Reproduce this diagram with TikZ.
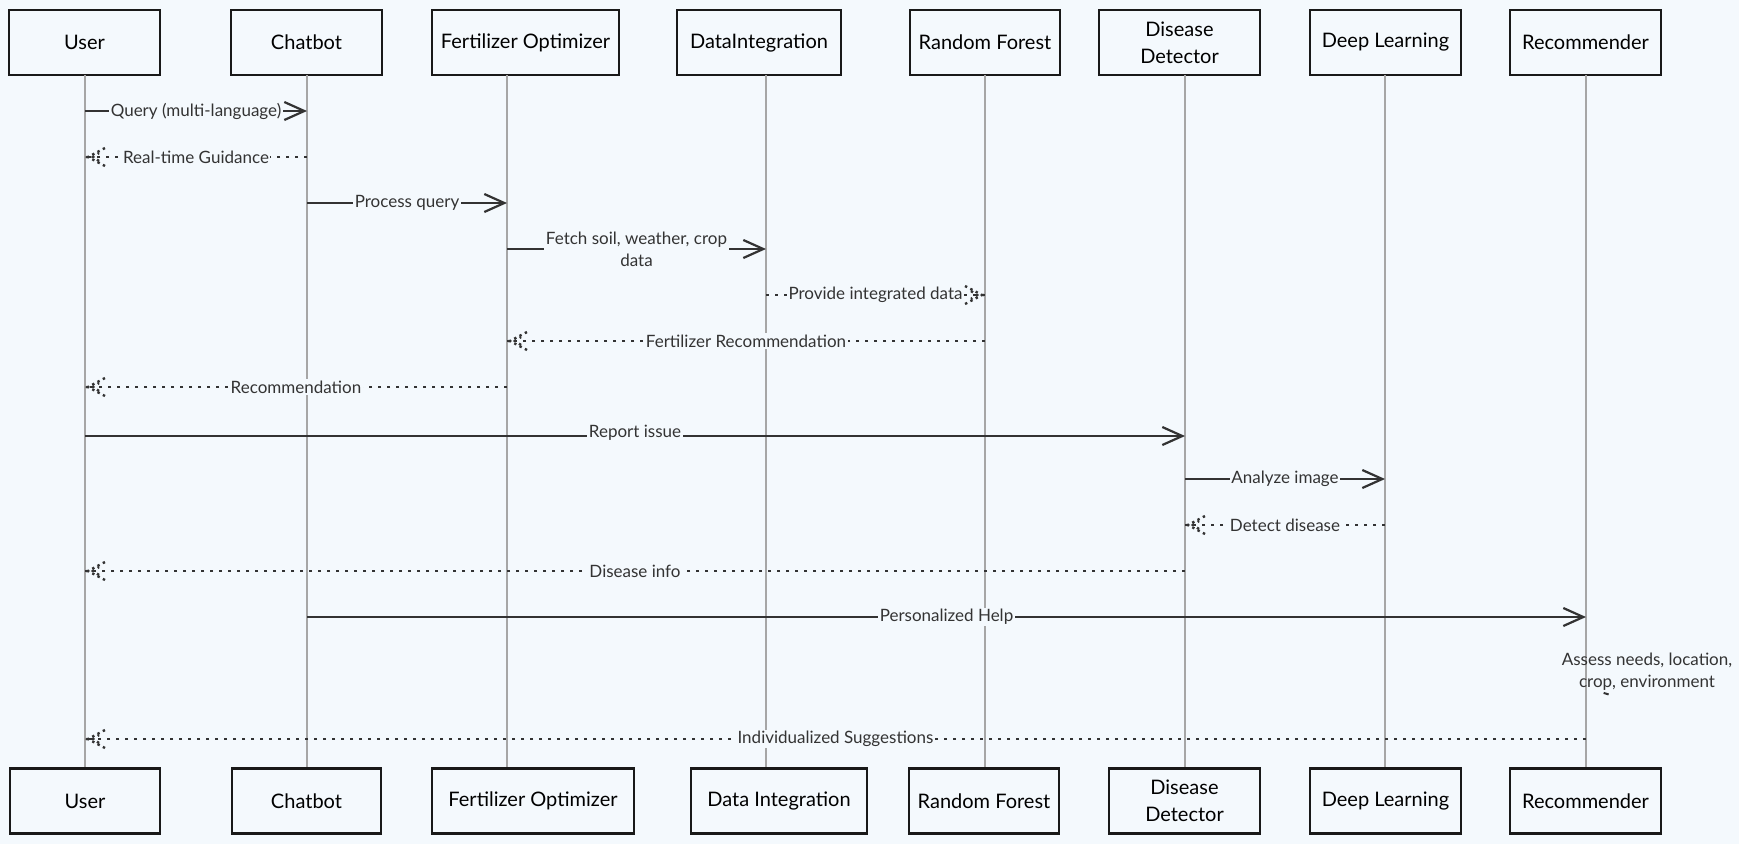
\documentclass[tikz,border=0pt]{standalone}
\usepackage{fontspec}
\setmainfont{Lato}
\usetikzlibrary{arrows.meta,decorations.markings}
\definecolor{bg}{HTML}{F4F9FD}
\definecolor{ink}{HTML}{333333}
\definecolor{life}{HTML}{A6A6A6}
\begin{document}
\begin{tikzpicture}[x=1pt,y=-1pt,
  actor/.style={draw=black!90, line width=2.2pt, fill=bg, inner sep=0pt, align=center,
     minimum height=65pt, font=\fontsize{20}{27}\selectfont, text=black},
  lifeline/.style={draw=life, line width=1.4pt},
  msg/.style={draw=ink, line width=2.2pt, -{Straight Barb[length=20pt,width=18pt,line width=2.2pt]}},
  reply/.style={draw=ink, line width=2.6pt, dash pattern=on 2.6pt off 6.4pt,
     postaction={decorate},
     decoration={markings, mark=at position 1 with {
        \draw[draw=ink, line width=2.4pt, dash pattern=on 2.4pt off 3.6pt] (-20,-9) -- (-3,0) -- (-20,9);
        \draw[draw=ink, line width=2.4pt, dash pattern=on 2.4pt off 4pt] (-14,-4) -- (-8,0) -- (-14,4);
        \fill[ink] (-2,0) circle (1.5pt);}}},
  lbl/.style={fill=bg, inner sep=1.5pt, text=ink, align=center, font=\fontsize{17}{22}\selectfont},
  notetext/.style={inner sep=0pt, text=ink, align=center, font=\fontsize{17}{22}\selectfont}
]
\useasboundingbox (0,0) rectangle (1739,844);
\fill[bg] (0,0) rectangle (1739,844);

% top actors
\node[actor, minimum width=151pt] (uT)  at (84.5,42.5)  {User};
\node[actor, minimum width=151pt] (cT)  at (306.5,42.5) {Chatbot};
\node[actor, minimum width=187pt] (fT)  at (525.5,42.5) {Fertilizer Optimizer};
\node[actor, minimum width=164pt] (dT)  at (759,42.5)   {DataIntegration};
\node[actor, minimum width=150pt] (rT)  at (985,42.5)   {Random Forest};
\node[actor, minimum width=161pt] (ddT) at (1179.5,42.5) {Disease\\Detector};
\node[actor, minimum width=151pt] (dlT) at (1385.5,42.5) {Deep Learning};
\node[actor, minimum width=151pt] (rcT) at (1585.5,42.5) {Recommender};

% bottom actors
\node[actor, minimum width=150pt] (uB)  at (85,801)    {User};
\node[actor, minimum width=149pt] (cB)  at (306.5,801) {Chatbot};
\node[actor, minimum width=202pt] (fB)  at (533,801)   {Fertilizer Optimizer};
\node[actor, minimum width=176pt] (dB)  at (779,801)   {Data Integration};
\node[actor, minimum width=150pt] (rB)  at (984,801)   {Random Forest};
\node[actor, minimum width=151pt] (ddB) at (1184.5,801) {Disease\\Detector};
\node[actor, minimum width=151pt] (dlB) at (1385.5,801) {Deep Learning};
\node[actor, minimum width=151pt] (rcB) at (1585.5,801) {Recommender};

% lifelines
\coordinate (uL)  at (85,75);
\coordinate (cL)  at (307,75);
\coordinate (fL)  at (507,75);
\coordinate (dL)  at (766,75);
\coordinate (rL)  at (985,75);
\coordinate (ddL) at (1185,75);
\coordinate (dlL) at (1385,75);
\coordinate (rcL) at (1586,75);
\begin{scope}[on background layer/.style={}]
\foreach \a/\b in {uL/uB,cL/cB,fL/fB,dL/dB,rL/rB,ddL/ddB,dlL/dlB,rcL/rcB}
  \draw[lifeline] (\a) -- (\a |- \b.north);
\end{scope}

% messages
\draw[msg]   (uL |- 0,111) -- (cL |- 0,111) node[lbl, midway] {Query (multi-language)};
\draw[reply] (cL |- 0,157) -- (uL |- 0,157) node[lbl, midway] {Real-time Guidance};
\draw[msg]   (cL |- 0,203) -- (fL |- 0,203) node[lbl, midway] {Process query};
\draw[msg]   (fL |- 0,249) -- (dL |- 0,249) node[lbl, midway] {Fetch soil, weather, crop\\data};
\draw[reply] (dL |- 0,295) -- (rL |- 0,295) node[lbl, midway] {Provide integrated data};
\draw[reply] (rL |- 0,341) -- (fL |- 0,341) node[lbl, midway] {Fertilizer Recommendation};
\draw[reply] (fL |- 0,387) -- (uL |- 0,387) node[lbl, midway] {Recommendation};
\draw[msg]   (uL |- 0,436) -- (ddL |- 0,436) node[lbl, midway, yshift=3pt] {Report issue};
\draw[msg]   (ddL |- 0,479) -- (dlL |- 0,479) node[lbl, midway] {Analyze image};
\draw[reply] (dlL |- 0,525) -- (ddL |- 0,525) node[lbl, midway] {Detect disease};
\draw[reply] (ddL |- 0,571) -- (uL |- 0,571) node[lbl, midway] {Disease info};
\draw[msg]   (cL |- 0,617) -- (rcL |- 0,617) node[lbl, midway] {Personalized Help};
\node[notetext] (assess) at (1647,672) {Assess needs, location,\\crop, environment};
\draw[ink, line width=2pt] (assess.south west) ++(42,2) coordinate (tk) -- ++(5,1.5);
\draw[reply] (rcL |- 0,739) -- (uL |- 0,739) node[lbl, midway] {Individualized Suggestions};
\end{tikzpicture}
\end{document}
